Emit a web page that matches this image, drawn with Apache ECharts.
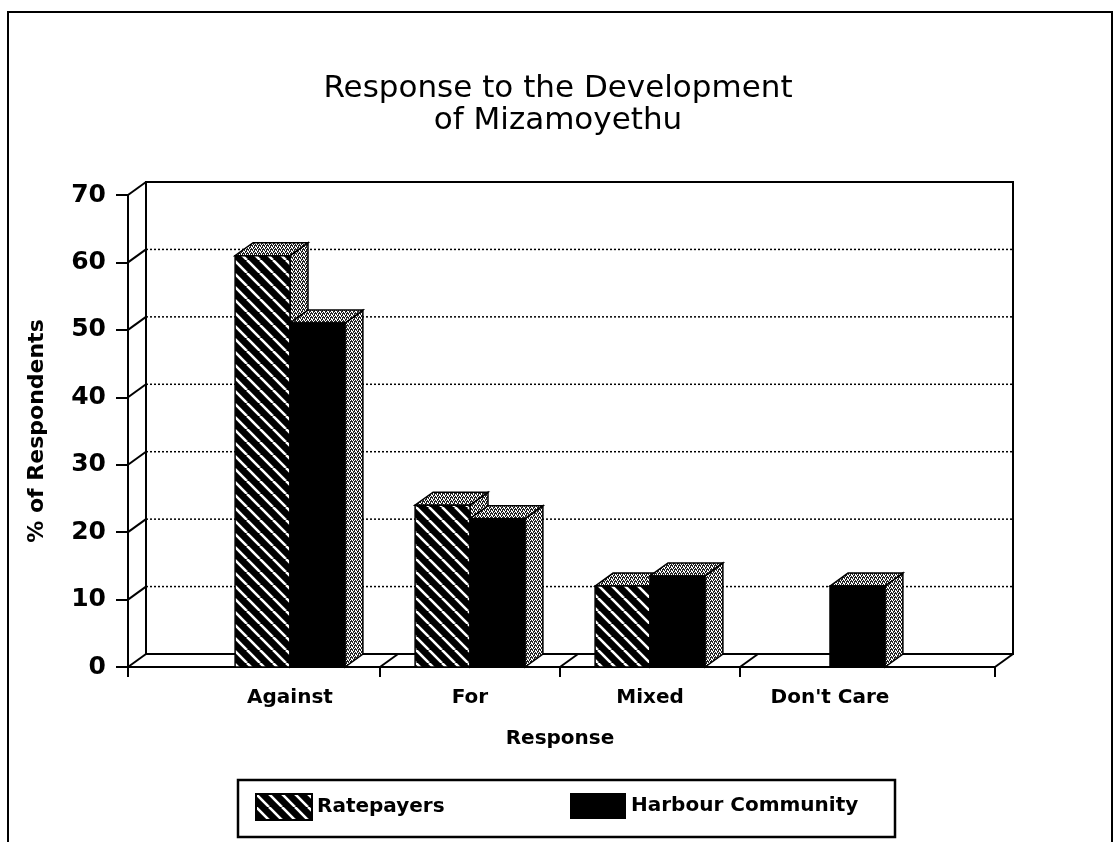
<!DOCTYPE html>
<html>
<head>
<meta charset="utf-8">
<script src="https://cdn.jsdelivr.net/npm/echarts@6/dist/echarts.min.js"></script>
<style>
  html, body { margin: 0; padding: 0; background: #fff; }
  #main { width: 1116px; height: 842px; }
</style>
</head>
<body>
<div id="main"></div>
<script>
// data
var categories = ['Against', 'For', 'Mixed', "Don't Care"];
var ratepayers = [61, 24, 12, 0];
var harbour = [51, 22, 13.5, 12];
var yTicks = [0, 10, 20, 30, 40, 50, 60, 70];
var seriesNames = ['Ratepayers', 'Harbour Community'];

// 3d look
var DX = 18, DY = -13;       // depth offset of the back wall
var LEFT_EXT = 72, RIGHT_EXT = 75;
var FONT = 'DejaVu Sans';

function hatchPattern() {
    var s = 13;
    var c = document.createElement('canvas');
    c.width = s; c.height = s;
    var ctx = c.getContext('2d');
    ctx.fillStyle = '#000';
    ctx.fillRect(0, 0, s, s);
    ctx.strokeStyle = '#fff';
    ctx.lineWidth = 2.6;
    for (var k = -1; k <= 1; k++) {
        ctx.beginPath();
        ctx.moveTo(k * s, 0);
        ctx.lineTo(k * s + s, s);
        ctx.stroke();
    }
    return { image: c, repeat: 'repeat' };
}

function stipplePattern() {
    var c = document.createElement('canvas');
    c.width = 4; c.height = 4;
    var ctx = c.getContext('2d');
    ctx.fillStyle = '#222';
    ctx.fillRect(0, 0, 4, 4);
    ctx.fillStyle = '#fff';
    ctx.fillRect(0, 0, 1, 1);
    ctx.fillRect(2, 0, 1, 1);
    ctx.fillRect(1, 2, 1, 1);
    ctx.fillRect(3, 2, 1, 1);
    ctx.fillRect(1, 1, 1, 1);
    ctx.fillRect(3, 3, 1, 1);
    ctx.fillRect(0, 3, 1, 1);
    return { image: c, repeat: 'repeat' };
}

var hatch = hatchPattern();
var stipple = stipplePattern();

// walls, floor, gridlines
function renderFrame(params, api) {
    var cs = params.coordSys;
    var v = api.value(0);
    var xL = cs.x - LEFT_EXT;
    var xR = cs.x + cs.width + RIGHT_EXT;
    var y = api.coord([0, v])[1];
    var line = { stroke: '#000', lineWidth: 2 };
    var children = [];

    if (v === yTicks[0]) {
        var yTop = api.coord([0, yTicks[yTicks.length - 1]])[1];
        children.push({ type: 'rect', shape: { x: xL + DX, y: yTop + DY, width: xR - xL, height: y - yTop },
            style: { fill: '#fff', stroke: '#000', lineWidth: 2 } });
        children.push({ type: 'line', shape: { x1: xL, y1: y, x2: xR, y2: y }, style: line });
        children.push({ type: 'line', shape: { x1: xR, y1: y, x2: xR + DX, y2: y + DY }, style: line });
        children.push({ type: 'line', shape: { x1: xL, y1: y, x2: xL, y2: y + 10 }, style: line });
        children.push({ type: 'line', shape: { x1: xR, y1: y, x2: xR, y2: y + 10 }, style: line });
        var band = api.size([1, 0])[0];
        for (var i = 0; i < categories.length - 1; i++) {
            var xb = api.coord([i, 0])[0] + band / 2;
            children.push({ type: 'line', shape: { x1: xb, y1: y, x2: xb + DX, y2: y + DY }, style: line });
            children.push({ type: 'line', shape: { x1: xb, y1: y, x2: xb, y2: y + 10 }, style: line });
        }
    } else if (v < yTicks[yTicks.length - 1]) {
        children.push({ type: 'line', shape: { x1: xL + DX, y1: y + DY, x2: xR + DX, y2: y + DY },
            style: { stroke: '#000', lineWidth: 1.5, lineDash: [2, 2] } });
    }
    children.push({ type: 'line', shape: { x1: xL, y1: y, x2: xL + DX, y2: y + DY }, style: line });
    return { type: 'group', children: children };
}

function barRender(side, frontFill) {
    return function (params, api) {
        var i = api.value(0), v = api.value(1);
        if (!v) return;
        var top = api.coord([i, v]);
        var base = api.coord([i, 0]);
        var w = api.size([1, 0])[0] * 0.305;
        var x0 = side === 0 ? top[0] - w : top[0];
        var x1 = x0 + w;
        var yt = top[1], yb = base[1];
        var edge = { stroke: '#000', lineWidth: 1.5 };
        return {
            type: 'group',
            children: [
                { type: 'polygon', shape: { points: [[x1, yt], [x1 + DX, yt + DY], [x1 + DX, yb + DY], [x1, yb]] },
                  style: Object.assign({ fill: stipple }, edge) },
                { type: 'polygon', shape: { points: [[x0, yt], [x0 + DX, yt + DY], [x1 + DX, yt + DY], [x1, yt]] },
                  style: Object.assign({ fill: stipple }, edge) },
                { type: 'rect', shape: { x: x0, y: yt, width: w, height: yb - yt },
                  style: Object.assign({ fill: frontFill }, edge) }
            ]
        };
    };
}

var chart = echarts.init(document.getElementById('main'));

var option = {
    backgroundColor: '#fff',
    animation: false,
    title: {
        text: 'Response to the Development\nof Mizamoyethu',
        left: 'center',
        top: 68,
        textStyle: { fontFamily: FONT, fontSize: 31, fontWeight: 'normal', color: '#000', lineHeight: 32 }
    },
    legend: [
        { data: [seriesNames[0]], left: 250, top: 788, icon: 'rect', itemWidth: 56, itemHeight: 26, itemGap: 12,
          textStyle: { fontFamily: FONT, fontSize: 20, fontWeight: 'bold', color: '#000' } },
        { data: [seriesNames[1]], left: 565, top: 788, icon: 'rect', itemWidth: 56, itemHeight: 26, itemGap: 12,
          textStyle: { fontFamily: FONT, fontSize: 20, fontWeight: 'bold', color: '#000' } }
    ],
    grid: { left: 200, right: 196, top: 195, bottom: 175 },
    xAxis: {
        type: 'category',
        data: categories,
        axisLine: { show: false },
        axisTick: { show: false },
        axisLabel: { margin: 21, fontFamily: FONT, fontSize: 20, fontWeight: 'bold', color: '#000' },
        name: 'Response',
        nameLocation: 'middle',
        nameGap: 62,
        nameTextStyle: { fontFamily: FONT, fontSize: 20, fontWeight: 'bold', color: '#000' }
    },
    yAxis: {
        type: 'value',
        min: 0, max: 70, interval: 10,
        offset: LEFT_EXT,
        axisLine: { show: true, lineStyle: { color: '#000', width: 2 } },
        axisTick: { show: true, length: 12, lineStyle: { color: '#000', width: 2 } },
        axisLabel: { margin: 22, fontFamily: FONT, fontSize: 25, fontWeight: 'bold', color: '#000' },
        splitLine: { show: false },
        name: '% of Respondents',
        nameLocation: 'middle',
        nameGap: 80,
        nameTextStyle: { fontFamily: FONT, fontSize: 22, fontWeight: 'bold', color: '#000' }
    },
    series: [
        { type: 'custom', name: 'frame', z: 1, silent: true, renderItem: renderFrame,
          data: yTicks.map(function (t) { return [t]; }), encode: { y: 0 } },
        { type: 'custom', name: seriesNames[0], z: 2, renderItem: barRender(0, hatch),
          itemStyle: { color: hatch, borderColor: '#000', borderWidth: 1 },
          data: categories.map(function (c, i) { return [i, ratepayers[i]]; }), encode: { x: 0, y: 1 } },
        { type: 'custom', name: seriesNames[1], z: 3, renderItem: barRender(1, '#000'),
          itemStyle: { color: '#000' },
          data: categories.map(function (c, i) { return [i, harbour[i]]; }), encode: { x: 0, y: 1 } }
    ],
    graphic: [
        { type: 'rect', shape: { x: 8, y: 12, width: 1104, height: 840 }, style: { fill: 'none', stroke: '#000', lineWidth: 2 }, z: -10 },
        { type: 'rect', shape: { x: 238, y: 780, width: 657, height: 57 }, style: { fill: 'none', stroke: '#000', lineWidth: 2.5 } }
    ]
};

chart.setOption(option);
</script>
</body>
</html>
